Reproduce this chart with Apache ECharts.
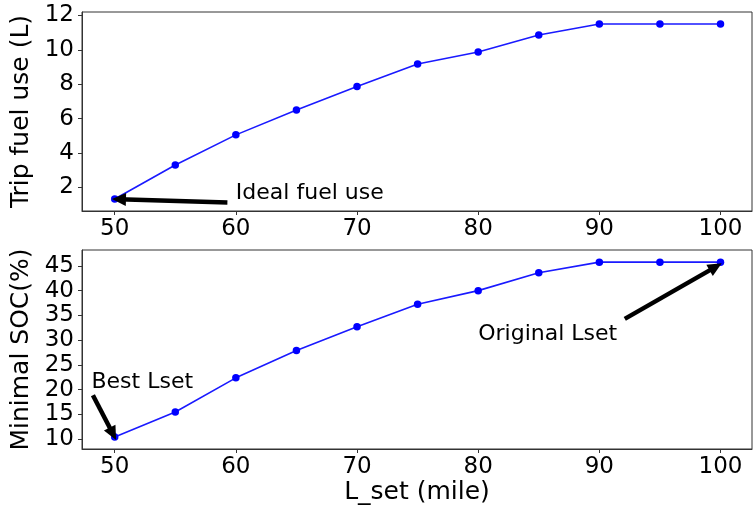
<!DOCTYPE html>
<html><head><meta charset="utf-8">
<script src="https://cdn.jsdelivr.net/npm/echarts@6/dist/echarts.min.js"></script>
<style>html,body{margin:0;padding:0;background:#fff}#c{width:753px;height:510px}</style>
</head><body><div id="c"></div>
<script>
const lset = [50, 55, 60, 65, 70, 75, 80, 85, 90, 95, 100];
const fuelUse = [1.32, 3.3, 5.05, 6.5, 7.86, 9.17, 9.87, 10.86, 11.5, 11.5, 11.5];
const minSOC = [10.46, 15.5, 22.4, 27.9, 32.7, 37.26, 40.0, 43.6, 45.75, 45.75, 45.75];
const xTicks = [50, 60, 70, 80, 90, 100];
const fuelTicks = [2, 4, 6, 8, 10, 12];
const socTicks = [10, 15, 20, 25, 30, 35, 40, 45];

const FONT = 'DejaVu Sans';
const chart = echarts.init(document.getElementById('c'), null, {renderer: 'canvas'});

function xAxisCfg(idx, name) {
  return {
    type: 'value', gridIndex: idx, min: 47.3, max: 102.6,
    name: name || '', nameLocation: 'middle', nameGap: 31,
    nameTextStyle: {fontFamily: FONT, fontSize: 25, color: '#000'},
    splitLine: {show: false},
    axisLine: {show: true, onZero: false, lineStyle: {color: '#333', width: 1}},
    axisTick: {show: true, length: 4, lineStyle: {color: '#333'}, customValues: xTicks},
    axisLabel: {fontFamily: FONT, fontSize: 23, color: '#000', margin: 7, customValues: xTicks}
  };
}
function yAxisCfg(idx, name, min, max, ticks) {
  return {
    type: 'value', gridIndex: idx, min: min, max: max,
    name: name, nameLocation: 'middle', nameGap: 42, nameRotate: 90,
    nameTextStyle: {fontFamily: FONT, fontSize: 25, color: '#000'},
    splitLine: {show: false},
    axisLine: {show: true, onZero: false, lineStyle: {color: '#333', width: 1}},
    axisTick: {show: true, length: 4, lineStyle: {color: '#333'}, customValues: ticks},
    axisLabel: {fontFamily: FONT, fontSize: 23, color: '#000', margin: 8, customValues: ticks}
  };
}
const arrowStyle = {color: '#000', width: 4.5, type: 'solid'};
function arrow(from, to) {
  return [{coord: from, symbol: 'none'}, {coord: to, symbol: 'triangle'}];
}
const textLabel = (coord, text) => ({
  coord: coord, symbol: 'circle', symbolSize: 0.01,
  label: {show: true, formatter: text, position: 'right', distance: 0,
          fontFamily: FONT, fontSize: 22, color: '#000'}
});

chart.setOption({
  animation: false,
  backgroundColor: '#fff',
  grid: [
    {left: 82, top: 12, width: 670, height: 199, show: true, borderColor: '#333', borderWidth: 1, backgroundColor: 'transparent'},
    {left: 82, top: 250, width: 670, height: 199, show: true, borderColor: '#333', borderWidth: 1, backgroundColor: 'transparent'}
  ],
  xAxis: [xAxisCfg(0), xAxisCfg(1, 'L_set (mile)')],
  yAxis: [
    yAxisCfg(0, 'Trip fuel use (L)', 0.62, 12.2, fuelTicks),
    yAxisCfg(1, 'Minimal SOC(%)', 8.04, 48.2, socTicks)
  ],
  series: [
    {
      type: 'line', xAxisIndex: 0, yAxisIndex: 0,
      data: lset.map((x, i) => [x, fuelUse[i]]),
      symbol: 'circle', symbolSize: 7.5, showAllSymbol: true,
      lineStyle: {color: '#1a1aff', width: 1.6},
      itemStyle: {color: '#0000ff'},
      markLine: {
        silent: true, animation: false, symbolSize: [13, 14],
        lineStyle: arrowStyle, label: {show: false},
        data: [arrow([59.3, 1.12], [50.35, 1.3])]
      },
      markPoint: {
        silent: true, animation: false, itemStyle: {color: 'transparent'},
        data: [textLabel([60, 1.68], 'Ideal fuel use')]
      }
    },
    {
      type: 'line', xAxisIndex: 1, yAxisIndex: 1,
      data: lset.map((x, i) => [x, minSOC[i]]),
      symbol: 'circle', symbolSize: 7.5, showAllSymbol: true,
      lineStyle: {color: '#1a1aff', width: 1.6},
      itemStyle: {color: '#0000ff'},
      markLine: {
        silent: true, animation: false, symbolSize: [13, 14],
        lineStyle: arrowStyle, label: {show: false},
        data: [arrow([48.2, 18.9], [49.85, 11.1]), arrow([92.1, 34.3], [99.6, 44.8])]
      },
      markPoint: {
        silent: true, animation: false, itemStyle: {color: 'transparent'},
        data: [textLabel([48.08, 21.6], 'Best Lset'), textLabel([80, 31.1], 'Original Lset')]
      }
    }
  ]
});
</script></body></html>
